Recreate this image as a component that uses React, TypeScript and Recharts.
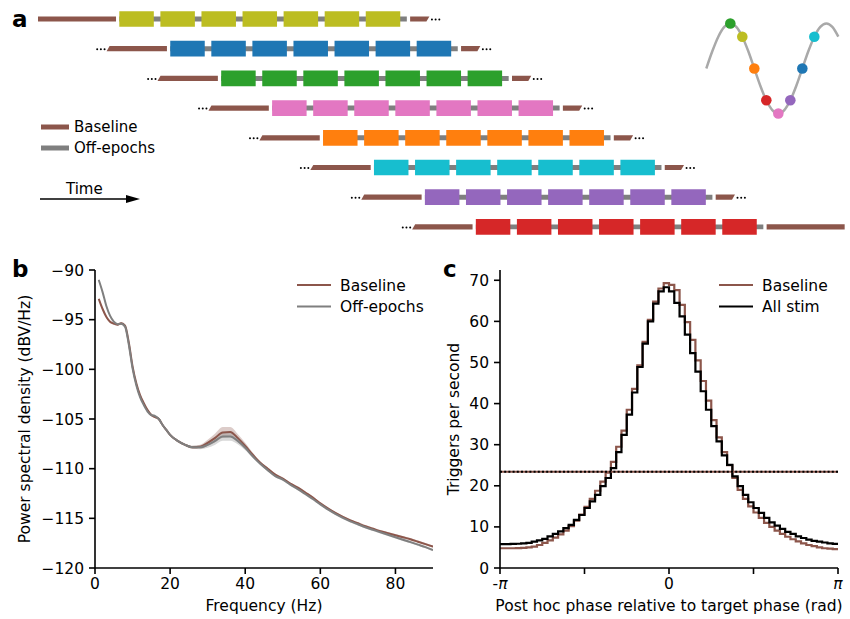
import React from 'react';
import {
  ComposedChart,
  Line,
  Area,
  Scatter,
  Cell,
  XAxis,
  YAxis,
  ReferenceArea,
  ReferenceLine,
} from 'recharts';

const FONT = '"DejaVu Sans", sans-serif';
const BROWN = '#8c564b';
const GREY = '#7f7f7f';

// ---------- panel a: protocol schematic (time in stimulation periods)
const rowColors = ['#bcbd22', '#1f77b4', '#2ca02c', '#e377c2', '#ff7f0e', '#17becf', '#9467bd', '#d62728'];
const rowOnsets = [0, 1.24, 2.48, 3.72, 4.96, 6.2, 7.44, 8.68];
const pulsesPerRow = 7;
const pulseOn = 0.84;
const baselineLen = 1.9;
const baselineGap = 0.08;
const leadShown = 1.47;
const tailShown = 0.47;

// phase cartoon
const sinePhase = [-90, -67.5, -45, -22.5, 0, 22.5, 45, 67.5, 90, 112.5, 135, 157.5, 180, 202.5, 225, 247.5, 270, 292.5, 315, 337.5, 360, 382.5, 405];
const sineLevel = [0, 0.383, 0.707, 0.924, 1, 0.924, 0.707, 0.383, 0, -0.383, -0.707, -0.924, -1, -0.924, -0.707, -0.383, 0, 0.383, 0.707, 0.924, 1, 0.924, 0.707];
const targetPhase = [0, 45, 90, 135, 180, 225, 270, 315];
const targetLevel = [1, 0.707, 0, -0.707, -1, -0.707, 0, 0.707];
const targetColors = ['#2ca02c', '#bcbd22', '#ff7f0e', '#d62728', '#e377c2', '#9467bd', '#1f77b4', '#17becf'];

// ---------- panel b: PSD
const freqs = [1, 2, 3, 4, 5, 6, 7, 8, 9, 10, 11, 12, 13, 14, 15, 16, 17, 18, 19, 20, 22, 24, 26, 28, 30, 32, 34, 36, 38, 40, 42, 44, 46, 48, 50, 52, 54, 56, 58, 60, 62, 64, 66, 68, 70, 72, 74, 76, 78, 80, 82, 84, 86, 88, 90];
const baselinePsd = [-92.9, -93.9, -94.7, -95.2, -95.4, -95.5, -95.35, -95.6, -97.3, -99.7, -101.4, -102.6, -103.4, -104.1, -104.6, -104.8, -105.0, -105.6, -106.1, -106.6, -107.2, -107.6, -107.85, -107.8, -107.4, -106.9, -106.35, -106.3, -106.9, -107.7, -108.6, -109.4, -110.0, -110.6, -111.0, -111.5, -111.9, -112.4, -112.9, -113.5, -114.0, -114.45, -114.85, -115.2, -115.5, -115.8, -116.05, -116.3, -116.5, -116.7, -116.9, -117.1, -117.35, -117.6, -117.85];
const offPsd = [-91.0, -92.2, -93.6, -94.6, -95.2, -95.45, -95.4, -95.7, -97.5, -99.9, -101.6, -102.8, -103.6, -104.25, -104.6, -104.7, -105.0, -105.6, -106.1, -106.6, -107.2, -107.6, -107.85, -107.85, -107.6, -107.2, -106.75, -106.75, -107.2, -107.9, -108.75, -109.5, -110.15, -110.75, -111.1, -111.6, -112.05, -112.55, -113.05, -113.6, -114.1, -114.55, -114.95, -115.3, -115.6, -115.9, -116.15, -116.4, -116.65, -116.9, -117.15, -117.4, -117.65, -117.9, -118.2];
const baselineSem = [0.12, 0.12, 0.12, 0.12, 0.12, 0.12, 0.12, 0.12, 0.12, 0.12, 0.12, 0.12, 0.12, 0.12, 0.12, 0.12, 0.12, 0.12, 0.12, 0.12, 0.12, 0.12, 0.15, 0.2, 0.3, 0.45, 0.55, 0.5, 0.4, 0.3, 0.2, 0.15, 0.12, 0.12, 0.12, 0.12, 0.12, 0.12, 0.12, 0.12, 0.12, 0.12, 0.12, 0.12, 0.12, 0.12, 0.12, 0.12, 0.12, 0.12, 0.12, 0.12, 0.12, 0.12, 0.12];
const offSem = [0.12, 0.12, 0.12, 0.12, 0.12, 0.12, 0.12, 0.12, 0.12, 0.12, 0.12, 0.12, 0.12, 0.12, 0.12, 0.12, 0.12, 0.12, 0.12, 0.12, 0.12, 0.12, 0.15, 0.2, 0.3, 0.4, 0.45, 0.45, 0.35, 0.25, 0.18, 0.14, 0.12, 0.12, 0.12, 0.12, 0.12, 0.12, 0.12, 0.12, 0.12, 0.12, 0.12, 0.12, 0.12, 0.12, 0.12, 0.12, 0.12, 0.12, 0.12, 0.12, 0.12, 0.12, 0.12];

// ---------- panel c: trigger phase histograms (64 bins over -pi..pi)
const stimRate = [5.8, 5.8, 5.85, 5.9, 6.0, 6.1, 6.4, 6.7, 7.1, 7.7, 8.3, 8.9, 9.7, 10.5, 11.7, 12.9, 14.6, 16.2, 17.8, 19.9, 21.9, 24.3, 28.2, 32.4, 37.3, 42.7, 48.9, 54.6, 60.0, 64.3, 67.3, 68.3, 67.3, 64.5, 61.2, 56.8, 52.3, 47.8, 43.0, 38.5, 34.5, 30.8, 27.4, 25.1, 22.3, 19.9, 17.8, 16.0, 14.6, 13.4, 12.2, 11.1, 10.3, 9.5, 8.8, 8.3, 7.7, 7.3, 6.9, 6.6, 6.4, 6.2, 6.0, 5.85];
const baselineRate = [4.8, 4.8, 4.8, 4.85, 4.9, 5.0, 5.2, 5.6, 6.1, 6.7, 7.4, 8.2, 9.1, 10.2, 11.5, 13.0, 14.9, 16.8, 18.8, 21.0, 23.2, 25.8, 29.5, 33.4, 38.5, 43.6, 49.3, 55.0, 60.4, 64.8, 68.0, 69.3, 68.9, 67.6, 64.0, 59.8, 55.5, 50.5, 45.5, 40.7, 36.0, 31.8, 28.2, 25.0, 21.9, 19.0, 16.8, 15.0, 13.5, 12.2, 11.0, 10.0, 9.1, 8.3, 7.6, 7.0, 6.5, 6.0, 5.6, 5.3, 5.0, 4.8, 4.7, 4.6];
const meanRate = 23.4;
const phaseTicks = [-Math.PI, -Math.PI / 2, 0, Math.PI / 2, Math.PI];

const psdData = freqs.map((f, i) => ({
  f,
  base: baselinePsd[i],
  off: offPsd[i],
  baseBand: [baselinePsd[i] - baselineSem[i], baselinePsd[i] + baselineSem[i]],
  offBand: [offPsd[i] - offSem[i], offPsd[i] + offSem[i]],
}));

const binW = (2 * Math.PI) / stimRate.length;
const histData = [...stimRate, stimRate[stimRate.length - 1]].map((v, k) => ({
  ph: -Math.PI + k * binW,
  stim: v,
  base: baselineRate[Math.min(k, baselineRate.length - 1)],
}));

const sineData = sinePhase.map((ph, i) => ({ ph, v: sineLevel[i] }));
const targetData = targetPhase.map((ph, i) => ({ ph, v: targetLevel[i] }));

const axisStyle = { stroke: '#000', strokeWidth: 1.6 };
const tickStyle = { fill: '#000', fontSize: 15.5, fontFamily: FONT };
const minus = (v: number) => (v < 0 ? `\u2212${-v}` : `${v}`);

function BaselineBar(props: any) {
  const { x, y, width, height, cutLeft, cutRight } = props;
  const s = 3;
  const pts = [
    [x, y + height],
    [x + (cutLeft ? s : 0), y],
    [x + width, y],
    [x + width - (cutRight ? s : 0), y + height],
  ]
    .map((p) => p.join(','))
    .join(' ');
  const cy = y + height / 2 + 0.5;
  return (
    <g>
      <polygon points={pts} fill={BROWN} />
      {cutLeft && [2, 5.7, 9.4].map((d) => <circle key={d} cx={x - d} cy={cy} r={1} fill="#000" />)}
      {cutRight && [2.5, 6.2, 9.9].map((d) => <circle key={d} cx={x + width + d} cy={cy} r={1} fill="#000" />)}
    </g>
  );
}

function PhaseTick(props: any) {
  const { x, y, payload } = props;
  const v = payload.value;
  let label: React.ReactNode = '';
  if (Math.abs(v) < 1e-6) label = '0';
  else if (Math.abs(v + Math.PI) < 1e-6) label = <><tspan>-</tspan><tspan fontStyle="italic">π</tspan></>;
  else if (Math.abs(v - Math.PI) < 1e-6) label = <tspan fontStyle="italic">π</tspan>;
  return (
    <text x={x} y={y} dy="0.71em" textAnchor="middle" fill="#000" fontSize={15.5} fontFamily={FONT}>
      {label}
    </text>
  );
}

const LINE_H = 0.088;
const BLOCK_H = 0.264;

function ProtocolPanel() {
  return (
    <ComposedChart width={850} height={245} data={[]} margin={{ top: 0, right: 0, bottom: 0, left: 0 }}>
      <XAxis type="number" dataKey="t" domain={[-2.905, 17.79]} hide allowDataOverflow />
      <YAxis type="number" dataKey="row" domain={[-0.64, 7.61]} reversed hide allowDataOverflow />
      {rowOnsets.map((t0, row) => {
        const last = row === rowOnsets.length - 1;
        const leadStart = row === 0 ? t0 - baselineGap - baselineLen : t0 - baselineGap - leadShown;
        const tailStart = t0 + pulsesPerRow + baselineGap;
        const tailEnd = last ? tailStart + baselineLen : tailStart + tailShown;
        return (
          <React.Fragment key={row}>
            <ReferenceArea
              x1={leadStart}
              x2={t0 - baselineGap}
              y1={row - LINE_H}
              y2={row + LINE_H}
              fillOpacity={1}
              shape={(p: any) => <BaselineBar {...p} cutLeft={row > 0} />}
            />
            <ReferenceArea
              x1={t0}
              x2={t0 + pulsesPerRow}
              y1={row - LINE_H * 0.95}
              y2={row + LINE_H * 0.95}
              fill={GREY}
              fillOpacity={1}
            />
            {Array.from({ length: pulsesPerRow }, (_, k) => (
              <ReferenceArea
                key={k}
                x1={t0 + k}
                x2={t0 + k + pulseOn}
                y1={row - BLOCK_H}
                y2={row + BLOCK_H}
                fill={rowColors[row]}
                fillOpacity={1}
              />
            ))}
            <ReferenceArea
              x1={tailStart}
              x2={tailEnd}
              y1={row - LINE_H}
              y2={row + LINE_H}
              fillOpacity={1}
              shape={(p: any) => <BaselineBar {...p} cutRight={!last} />}
            />
          </React.Fragment>
        );
      })}
    </ComposedChart>
  );
}

function PhaseCartoon() {
  return (
    <ComposedChart width={145} height={115} margin={{ top: 0, right: 0, bottom: 0, left: 0 }}>
      <XAxis type="number" dataKey="ph" domain={[-113.6, 430]} hide allowDataOverflow />
      <YAxis type="number" dataKey="v" domain={[-1.256, 1.3]} hide allowDataOverflow />
      <Line data={sineData} dataKey="v" type="monotone" stroke="#a9a9a9" strokeWidth={2.5} dot={false} isAnimationActive={false} />
      <Scatter
        data={targetData}
        dataKey="v"
        isAnimationActive={false}
        shape={(p: any) => <circle cx={p.cx} cy={p.cy} r={5.3} fill={p.fill} />}
      >
        {targetData.map((_, i) => (
          <Cell key={i} fill={targetColors[i]} />
        ))}
      </Scatter>
    </ComposedChart>
  );
}

function PsdPanel() {
  return (
    <ComposedChart width={440} height={369} data={psdData} margin={{ top: 20, right: 7, bottom: 0, left: 0 }}>
      <XAxis
        type="number"
        dataKey="f"
        domain={[0, 90]}
        ticks={[0, 20, 40, 60, 80]}
        interval={0}
        allowDataOverflow
        height={51}
        tickSize={6}
        tickMargin={4}
        axisLine={axisStyle}
        tickLine={axisStyle}
        tick={tickStyle}
        label={{ value: 'Frequency (Hz)', position: 'insideBottom', offset: 8, fill: '#000', fontSize: 15.5, fontFamily: FONT }}
      />
      <YAxis
        type="number"
        domain={[-120, -90]}
        ticks={[-120, -115, -110, -105, -100, -95, -90]}
        interval={0}
        allowDataOverflow
        width={95}
        tickSize={6}
        tickMargin={5}
        axisLine={axisStyle}
        tickLine={axisStyle}
        tick={tickStyle}
        tickFormatter={minus}
        label={{
          value: 'Power spectral density (dBV/Hz)',
          angle: -90,
          position: 'insideLeft',
          offset: 24,
          fill: '#000',
          fontSize: 15.5,
          fontFamily: FONT,
          style: { textAnchor: 'middle' },
        }}
      />
      <Area dataKey="baseBand" type="monotone" stroke="none" fill={BROWN} fillOpacity={0.3} isAnimationActive={false} />
      <Area dataKey="offBand" type="monotone" stroke="none" fill={GREY} fillOpacity={0.3} isAnimationActive={false} />
      <Line dataKey="base" type="monotone" stroke={BROWN} strokeWidth={2} dot={false} isAnimationActive={false} />
      <Line dataKey="off" type="monotone" stroke={GREY} strokeWidth={2} dot={false} isAnimationActive={false} />
    </ComposedChart>
  );
}

function PhasePanel() {
  return (
    <ComposedChart width={410} height={369} data={histData} margin={{ top: 20, right: 12, bottom: 0, left: 0 }}>
      <XAxis
        type="number"
        dataKey="ph"
        domain={[-Math.PI, Math.PI]}
        ticks={phaseTicks}
        interval={0}
        allowDataOverflow
        height={51}
        tickSize={6}
        tickMargin={4}
        axisLine={axisStyle}
        tickLine={axisStyle}
        tick={<PhaseTick />}
        label={{
          value: 'Post hoc phase relative to target phase (rad)',
          position: 'insideBottom',
          offset: 8,
          fill: '#000',
          fontSize: 15.5,
          fontFamily: FONT,
        }}
      />
      <YAxis
        type="number"
        domain={[0, 72.5]}
        ticks={[0, 10, 20, 30, 40, 50, 60, 70]}
        interval={0}
        allowDataOverflow
        width={60}
        tickSize={6}
        tickMargin={5}
        axisLine={axisStyle}
        tickLine={axisStyle}
        tick={tickStyle}
        label={{
          value: 'Triggers per second',
          angle: -90,
          position: 'insideLeft',
          offset: 13,
          fill: '#000',
          fontSize: 15.5,
          fontFamily: FONT,
          style: { textAnchor: 'middle' },
        }}
      />
      <Line dataKey="base" type="stepAfter" stroke={BROWN} strokeWidth={2.2} dot={false} isAnimationActive={false} />
      <Line dataKey="stim" type="stepAfter" stroke="#000" strokeWidth={2.2} dot={false} isAnimationActive={false} />
      <ReferenceLine y={meanRate} stroke={BROWN} strokeWidth={2} />
      <ReferenceLine y={meanRate} stroke="#000" strokeWidth={2} strokeDasharray="2 2.2" />
    </ComposedChart>
  );
}

function Overlay() {
  const txt = { fontFamily: FONT, fill: '#000' } as const;
  return (
    <svg width={850} height={619} style={{ position: 'absolute', left: 0, top: 0, pointerEvents: 'none' }}>
      <text x={12} y={27} fontSize={23} fontWeight="bold" {...txt}>a</text>
      <text x={12} y={277} fontSize={23} fontWeight="bold" {...txt}>b</text>
      <text x={443} y={277} fontSize={23} fontWeight="bold" {...txt}>c</text>

      {/* panel a legend */}
      <line x1={41} x2={69} y1={127} y2={127} stroke={BROWN} strokeWidth={5} />
      <text x={74} y={132} fontSize={15} {...txt}>Baseline</text>
      <line x1={41} x2={69} y1={148} y2={148} stroke={GREY} strokeWidth={5} />
      <text x={74} y={153} fontSize={15} {...txt}>Off-epochs</text>
      <text x={66} y={194} fontSize={15} {...txt}>Time</text>
      <line x1={40} x2={126} y1={199} y2={199} stroke="#000" strokeWidth={1.5} />
      <polygon points="140,199 126,195 126,203" fill="#000" />

      {/* panel b legend */}
      <line x1={297} x2={331} y1={285} y2={285} stroke={BROWN} strokeWidth={2} />
      <text x={340} y={290.5} fontSize={15.5} {...txt}>Baseline</text>
      <line x1={297} x2={331} y1={306.5} y2={306.5} stroke={GREY} strokeWidth={2} />
      <text x={340} y={312} fontSize={15.5} {...txt}>Off-epochs</text>

      {/* panel c legend */}
      <line x1={719} x2={753} y1={285} y2={285} stroke={BROWN} strokeWidth={2} />
      <text x={762} y={290.5} fontSize={15.5} {...txt}>Baseline</text>
      <line x1={719} x2={753} y1={306.5} y2={306.5} stroke="#000" strokeWidth={2} />
      <text x={762} y={312} fontSize={15.5} {...txt}>All stim</text>
    </svg>
  );
}

export default function App() {
  return (
    <div style={{ position: 'absolute', left: 0, top: 0, width: 850, height: 619, background: '#fff', fontFamily: FONT }}>
      <div style={{ position: 'absolute', left: 0, top: 0 }}>
        <ProtocolPanel />
      </div>
      <div style={{ position: 'absolute', left: 700, top: 10 }}>
        <PhaseCartoon />
      </div>
      <div style={{ position: 'absolute', left: 0, top: 250 }}>
        <PsdPanel />
      </div>
      <div style={{ position: 'absolute', left: 440, top: 250 }}>
        <PhasePanel />
      </div>
      <Overlay />
    </div>
  );
}
